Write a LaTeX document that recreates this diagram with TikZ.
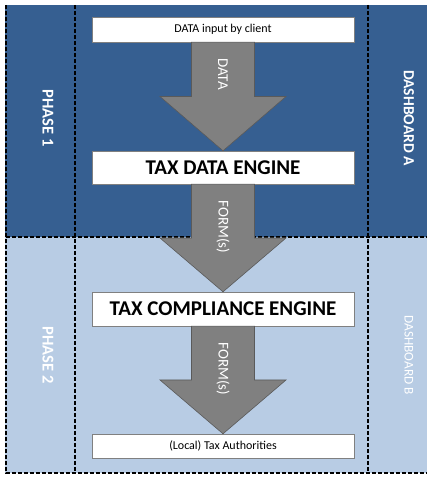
\documentclass[tikz,border=0pt]{standalone}
\usepackage{fontspec}
\setmainfont{Carlito}
\usetikzlibrary{calc,positioning}
\definecolor{phaseone}{RGB}{54,95,145}
\definecolor{phasetwo}{RGB}{184,204,228}
\definecolor{arrowgray}{RGB}{128,128,128}
\definecolor{linegray}{RGB}{90,90,90}

\begin{document}
\begin{tikzpicture}[x=1pt,y=1pt,
	box/.style={draw=arrowgray,fill=white,minimum width=262pt,inner sep=0pt},
	small/.style={box,minimum height=25pt,font=\fontsize{12}{14}\selectfont},
	engine/.style={box,minimum height=33pt,font=\fontsize{21}{25}\selectfont\bfseries},
	bigarrow/.style={draw=linegray,fill=arrowgray,line width=0.6pt},
	arrowtext/.style={text=white,rotate=-90,anchor=west,inner sep=0pt,font=\fontsize{15}{17}\selectfont},
	sidetext/.style={text=white,rotate=-90,font=\fontsize{16.5}{19}\selectfont\bfseries},
	divider/.style={black,line width=1.4pt,dash pattern=on 4pt off 2pt}]
	\useasboundingbox (0,0) rectangle (427,477);
	\fill[phaseone] (5,240) rectangle (427,472);
	\fill[phasetwo] (5,4) rectangle (427,240);
	\draw[divider] (6,472) -- (6,4) -- (427,4);
	\draw[divider] (6,240) -- (427,240);
	\draw[divider] (75,472) -- (75,4);
	\draw[divider] (368,472) -- (368,4);

	\node[small]	(input)			at (223,447.5)		{DATA input by client};
	\node[engine]	(dataengine)	at (223,309.5)		{TAX DATA ENGINE};
	\node[engine,minimum height=34pt]	(compliance)	at (223,168)	{TAX COMPLIANCE ENGINE};
	\node[small,minimum height=24pt]	(authority)		at (223,31)		{(Local) Tax Authorities};

	\node[sidetext]	(phase1)		at (48,359)		{PHASE 1};
	\node[sidetext,font=\fontsize{15.5}{18}\selectfont\bfseries]	(dashA)	at (409,359)	{DASHBOARD A};
	\node[sidetext]	(phase2)		at (48,122)		{PHASE 2};
	\node[sidetext,font=\fontsize{13.3}{16}\selectfont]	(dashB)	at (409,122)	{DASHBOARD B};

	\foreach \a/\b/\t in {input/dataengine/DATA,dataengine/compliance/FORM(s),compliance/authority/FORM(s)} {
		\draw[bigarrow] ($(\a.south)+(-31.5,0)$) -- ($(\a.south)!.5!(\b.north)+(-31.5,0)$) -- ++(-31.5,0)
			-- (\b.north) -- ($(\a.south)!.5!(\b.north)+(63,0)$) -- ++(-31.5,0) -- ($(\a.south)+(31.5,0)$) -- cycle;
		\node[arrowtext] at ($(\a.south)+(0,-16)$) {\t};
	}
\end{tikzpicture}
\end{document}
